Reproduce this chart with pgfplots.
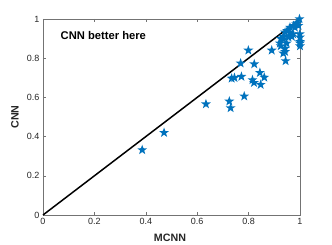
\documentclass[border=0pt]{standalone}
\usepackage{pgfplots}
\pgfplotsset{compat=1.18}
\usepackage{fontspec}
\setmainfont{Liberation Sans}
\definecolor{mblue}{RGB}{0,114,189}
\definecolor{axgray}{RGB}{38,38,38}
\pgfdeclareplotmark{pstar}{%
\pgfpathmoveto{\pgfpointpolar{90}{\pgfplotmarksize}}%
\pgfpathlineto{\pgfpointpolar{126}{0.4\pgfplotmarksize}}%
\pgfpathlineto{\pgfpointpolar{162}{\pgfplotmarksize}}%
\pgfpathlineto{\pgfpointpolar{198}{0.4\pgfplotmarksize}}%
\pgfpathlineto{\pgfpointpolar{234}{\pgfplotmarksize}}%
\pgfpathlineto{\pgfpointpolar{270}{0.4\pgfplotmarksize}}%
\pgfpathlineto{\pgfpointpolar{306}{\pgfplotmarksize}}%
\pgfpathlineto{\pgfpointpolar{342}{0.4\pgfplotmarksize}}%
\pgfpathlineto{\pgfpointpolar{18}{\pgfplotmarksize}}%
\pgfpathlineto{\pgfpointpolar{54}{0.4\pgfplotmarksize}}%
\pgfpathclose
\pgfusepathqfill}
\pgfplotstableread{
x y
0.386 0.332
0.471 0.420
0.634 0.566
0.725 0.580
0.730 0.546
0.783 0.606
0.734 0.697
0.745 0.700
0.772 0.706
0.769 0.774
0.799 0.840
0.822 0.770
0.815 0.689
0.821 0.675
0.844 0.726
0.861 0.702
0.847 0.665
0.890 0.840
0.944 0.786
0.925 0.862
0.935 0.825
0.942 0.850
0.922 0.876
0.948 0.876
0.942 0.833
0.935 0.898
0.955 0.907
0.942 0.932
0.961 0.957
0.980 0.957
0.973 0.923
0.968 0.910
0.935 0.910
0.999 0.923
1.000 0.907
1.000 0.884
1.000 0.862
1.000 0.876
0.998 1.000
0.994 0.966
0.990 0.980
0.985 0.975
0.950 0.940
0.960 0.930
0.975 0.965
0.925 0.900
}\datatab
\begin{document}
\begin{tikzpicture}
\useasboundingbox (-43pt,-30pt) rectangle (289pt,215pt);
\begin{axis}[
  scale only axis, width=257pt, height=196pt,
  at={(0,0)}, anchor=south west,
  xmin=0, xmax=1, ymin=0, ymax=1,
  xtick={0,0.2,0.4,0.6,0.8,1}, ytick={0,0.2,0.4,0.6,0.8,1},
  xticklabels={0,0.2,0.4,0.6,0.8,1}, yticklabels={0,0.2,0.4,0.6,0.8,1},
  tick align=inside, major tick length=3pt,
  axis line style={black!55, line width=0.5pt},
  every tick/.style={black!55, line width=0.5pt},
  tick label style={font=\fontsize{9}{10}\selectfont, text=axgray},
  /pgf/number format/assume math mode=true,
  xlabel={MCNN}, ylabel={CNN},
  label style={font=\fontsize{10.7}{12}\selectfont\bfseries, text=axgray},
  xlabel style={at={(axis description cs:0.494,-0.117)}, anchor=center},
  ylabel style={at={(axis description cs:-0.109,0.5)}, anchor=center},
  clip=false,
]
\addplot[only marks, mark=pstar, mark size=5.2pt, mblue] table[x=x,y=y] {\datatab};
\addplot[black, line width=1.5pt] coordinates {(0,0) (1,1)};
\node[anchor=west, font=\fontsize{11.2}{13}\selectfont\bfseries, text=black] at (axis description cs:0.055,0.918) {CNN better here};
\end{axis}
\end{tikzpicture}
\end{document}
